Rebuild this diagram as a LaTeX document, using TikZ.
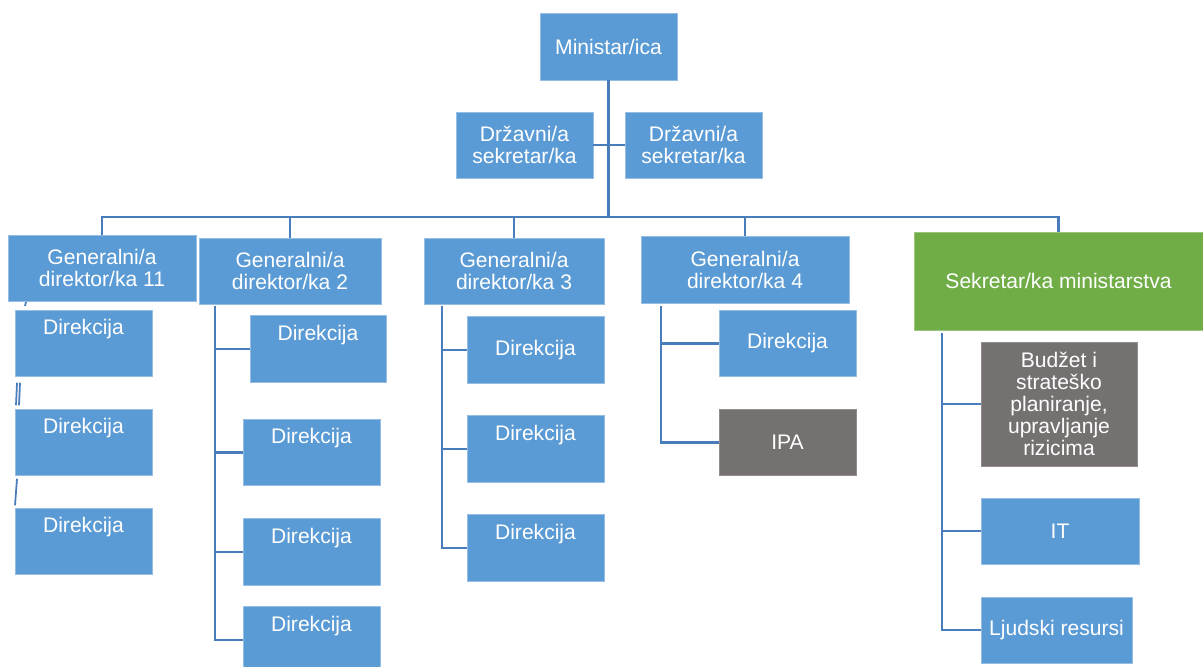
\documentclass[tikz,border=0pt]{standalone}
\usepackage{fontspec}
\setsansfont{Liberation Sans}
\definecolor{boxBlue}{RGB}{91,155,213}
\definecolor{boxEdge}{RGB}{150,190,228}
\definecolor{boxGrey}{RGB}{118,113,113}
\definecolor{boxGreen}{RGB}{112,173,71}
\definecolor{linkBlue}{RGB}{72,124,186}

\begin{document}
\begin{tikzpicture}[x = 0.02cm, y = -0.02cm, font=\sffamily\fontsize{12}{12.5}\selectfont]
	\tikzstyle{boxStyle} = [shape = rectangle, inner sep = 0pt, outer sep = 0pt, fill = boxBlue, draw = boxEdge, line width = 0.4pt, text = white, align = center]
	\tikzstyle{greyStyle} = [boxStyle, fill = boxGrey, draw = boxGrey!80!white]
	\tikzstyle{greenStyle} = [boxStyle, fill = boxGreen, draw = boxGreen!70!white]
	\tikzstyle{dirStyle} = [boxStyle, minimum width = 2.74cm, minimum height = 1.33cm]
	\tikzstyle{topText} = [anchor = north, yshift = -0.18cm, inner sep = 0pt, text = white]
	\tikzstyle{linkStyle} = [draw = linkBlue, line width = 1.6pt]
	\useasboundingbox (0,0) rectangle (1203,666);
	\node[boxStyle, minimum width = 2.74cm, minimum height = 1.34cm] (min) at (608.5,46.5) {Ministar/ica};
	\node[boxStyle, minimum width = 2.74cm, minimum height = 1.32cm] (ds1) at (524.5,145) {Državni/a\\sekretar/ka};
	\node[boxStyle, minimum width = 2.74cm, minimum height = 1.32cm] (ds2) at (693.5,145) {Državni/a\\sekretar/ka};
	\node[boxStyle, minimum width = 3.76cm, minimum height = 1.32cm] (gd1) at (102,268) {Generalni/a\\direktor/ka 11};
	\node[boxStyle, minimum width = 3.64cm, minimum height = 1.32cm] (gd2) at (290,271) {Generalni/a\\direktor/ka 2};
	\node[boxStyle, minimum width = 3.60cm, minimum height = 1.32cm] (gd3) at (514,271) {Generalni/a\\direktor/ka 3};
	\node[boxStyle, minimum width = 4.16cm, minimum height = 1.34cm] (gd4) at (745,269.5) {Generalni/a\\direktor/ka 4};
	\node[greenStyle, minimum width = 5.78cm, minimum height = 1.96cm] (sek) at (1058.5,281) {Sekretar/ka ministarstva};
	\node[dirStyle, label = {[topText]north:Direkcija}] (d11) at (83.5,343.5) {};
	\node[dirStyle, label = {[topText]north:Direkcija}] (d12) at (83.5,442.5) {};
	\node[dirStyle, label = {[topText]north:Direkcija}] (d13) at (83.5,541.5) {};
	\node[dirStyle, minimum width = 2.72cm, label = {[topText]north:Direkcija}] (d21) at (318,349) {};
	\node[dirStyle, label = {[topText]north:Direkcija}] (d22) at (311.5,452.5) {};
	\node[dirStyle, label = {[topText]north:Direkcija}] (d23) at (311.5,552) {};
	\node[dirStyle, label = {[topText]north:Direkcija}] (d24) at (311.5,640) {};
	\node[dirStyle] (d31) at (535.5,350) {Direkcija};
	\node[dirStyle, label = {[topText]north:Direkcija}] (d32) at (535.5,449) {};
	\node[dirStyle, label = {[topText]north:Direkcija}] (d33) at (535.5,548) {};
	\node[dirStyle] (d41) at (787.5,343.5) {Direkcija};
	\node[dirStyle, greyStyle] (ipa) at (787.5,442.5) {IPA};
	\node[greyStyle, minimum width = 3.12cm, minimum height = 2.48cm] (bud) at (1059,404) {Budžet i\\strateško\\planiranje,\\upravljanje\\rizicima};
	\node[boxStyle, minimum width = 3.16cm, minimum height = 1.32cm] (it) at (1060,531) {IT};
	\node[boxStyle, minimum width = 3.02cm, minimum height = 1.32cm] (lj) at (1056.5,630) {Ljudski resursi};
	\coordinate (bus) at (609,217);
	\coordinate (t2) at (215,306);
	\coordinate (t3) at (442,306);
	\coordinate (t4) at (661,306);
	\coordinate (t5) at (942,333);
	\draw[linkStyle] (min.south) -- (min.south |- bus);
	\draw[linkStyle] (ds1.east) -- (ds2.west);
	\draw[linkStyle] (gd1.north) |- (bus);
	\draw[linkStyle] (gd2.north) |- (bus);
	\draw[linkStyle] (gd3.north) |- (bus);
	\draw[linkStyle] (gd4.north) |- (bus);
	\draw[linkStyle] (sek.north) |- (bus);
	\draw[linkStyle, line width = 1pt] ([xshift = 0.36cm, yshift = -0.02cm]gd1.south west) -- ([xshift = 0.34cm, yshift = -0.10cm]gd1.south west);
	\draw[linkStyle, line width = 1pt] ([xshift = 0.04cm, yshift = -0.12cm]d11.south west) -- ([xshift = 0.02cm, yshift = 0.08cm]d12.north west);
	\draw[linkStyle, line width = 1pt] ([xshift = 0.10cm, yshift = -0.12cm]d11.south west) -- ([xshift = 0.08cm, yshift = 0.08cm]d12.north west);
	\draw[linkStyle, line width = 1pt] ([xshift = 0.04cm, yshift = -0.06cm]d12.south west) -- ([xshift = 0.00cm, yshift = 0.06cm]d13.north west);
	\draw[linkStyle] (t2) |- (d24.west);
	\draw[linkStyle] (t2) |- (d21.west);
	\draw[linkStyle] (t2) |- (d22.west);
	\draw[linkStyle] (t2) |- (d23.west);
	\draw[linkStyle] (t3) |- (d33.west);
	\draw[linkStyle] (t3) |- (d31.west);
	\draw[linkStyle] (t3) |- (d32.west);
	\draw[linkStyle] (t4) |- (ipa.west);
	\draw[linkStyle] (t4) |- (d41.west);
	\draw[linkStyle] (t5) |- (lj.west);
	\draw[linkStyle] (t5) |- (bud.west);
	\draw[linkStyle] (t5) |- (it.west);
\end{tikzpicture}
\end{document}
